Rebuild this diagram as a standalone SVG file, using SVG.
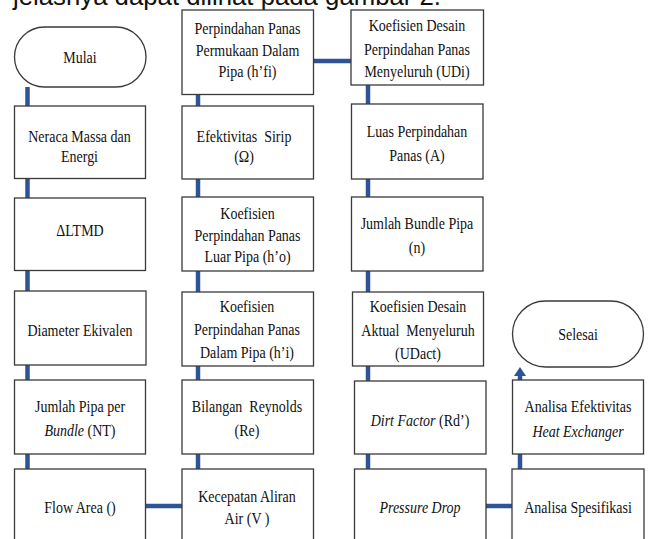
<svg xmlns="http://www.w3.org/2000/svg" width="649" height="539" viewBox="0 0 649 539">
<style>
.box{fill:#fff;stroke:#3a3a3a;stroke-width:1.3}
.t{font-family:"Liberation Serif","Times New Roman",serif;font-size:17.5px;fill:#111;text-anchor:middle}
.i{font-style:italic}
.c{fill:none;stroke:#2F5496;stroke-width:4.5}
.head{font-family:"Liberation Sans",Arial,sans-serif;font-size:25px;fill:#111}
</style>
<rect width="649" height="539" fill="#fff"/>
<text class="head" x="13" y="5" textLength="428" lengthAdjust="spacingAndGlyphs">jelasnya dapat dilihat pada gambar 2.</text>

<g id="connectors">
<line class="c" x1="27.5" y1="87" x2="27.5" y2="106"/>
<line class="c" x1="27.5" y1="178" x2="27.5" y2="198"/>
<line class="c" x1="27.5" y1="270" x2="27.5" y2="291"/>
<line class="c" x1="27.5" y1="365" x2="27.5" y2="380"/>
<line class="c" x1="27.5" y1="454" x2="27.5" y2="469"/>
<line class="c" x1="145.5" y1="506" x2="182" y2="506"/>
<line class="c" x1="198" y1="454" x2="198" y2="469"/>
<line class="c" x1="198" y1="366" x2="198" y2="380"/>
<line class="c" x1="198" y1="271" x2="198" y2="292"/>
<line class="c" x1="198" y1="179" x2="198" y2="197"/>
<line class="c" x1="198" y1="94" x2="198" y2="106"/>
<line class="c" x1="313" y1="61" x2="351" y2="61"/>
<line class="c" x1="368" y1="85" x2="368" y2="104"/>
<line class="c" x1="368" y1="179" x2="368" y2="197"/>
<line class="c" x1="368" y1="271" x2="368" y2="292"/>
<line class="c" x1="368" y1="366" x2="368" y2="381"/>
<line class="c" x1="368" y1="454" x2="368" y2="469"/>
<line class="c" x1="486" y1="506" x2="512" y2="506"/>
<line class="c" x1="520" y1="469" x2="520" y2="454"/>
<line class="c" x1="520" y1="380" x2="520" y2="375"/>
<path d="M520,367 L526,376 L514,376 z" fill="#2F5496"/>
</g>

<g id="mulai">
<rect class="box" x="14.5" y="27" width="131.5" height="60" rx="30" ry="30"/>
<text class="t" transform="translate(80,63) scale(0.8,1)">Mulai</text>
</g>
<g id="neraca">
<rect class="box" x="14.5" y="106" width="131" height="72.5"/>
<text class="t" transform="translate(79.5,142) scale(0.8,1)">Neraca Massa dan</text>
<text class="t" transform="translate(79.5,162) scale(0.8,1)">Energi</text>
</g>
<g id="ltmd">
<rect class="box" x="14.5" y="198" width="131" height="72.5"/>
<text class="t" transform="translate(80,235.5) scale(0.8,1)">ΔLTMD</text>
</g>
<g id="diameter">
<rect class="box" x="14.5" y="291" width="131.5" height="74"/>
<text class="t" transform="translate(80,335.5) scale(0.8,1)">Diameter Ekivalen</text>
</g>
<g id="jumlah-pipa">
<rect class="box" x="14.5" y="380" width="131" height="74"/>
<text class="t" transform="translate(80,412) scale(0.8,1)">Jumlah Pipa per</text>
<text class="t" transform="translate(80,435.5) scale(0.8,1)"><tspan class="i">Bundle</tspan> (NT)</text>
</g>
<g id="flow-area">
<rect class="box" x="14.5" y="469" width="131" height="76"/>
<text class="t" transform="translate(80,512.5) scale(0.8,1)">Flow Area ()</text>
</g>

<g id="hfi">
<rect class="box" x="182" y="10" width="131.5" height="84.5"/>
<text class="t" transform="translate(247.5,33.5) scale(0.8,1)">Perpindahan Panas</text>
<text class="t" transform="translate(247.5,55.5) scale(0.8,1)">Permukaan Dalam</text>
<text class="t" transform="translate(247.5,77) scale(0.8,1)">Pipa (h’fi)</text>
</g>
<g id="sirip">
<rect class="box" x="182" y="106" width="131.5" height="73"/>
<text class="t" xml:space="preserve" transform="translate(244,142) scale(0.8,1)">Efektivitas  Sirip</text>
<text class="t" transform="translate(244,162) scale(0.8,1)">(Ω)</text>
</g>
<g id="ho">
<rect class="box" x="182" y="197" width="131.5" height="74"/>
<text class="t" transform="translate(247.5,218.5) scale(0.8,1)">Koefisien</text>
<text class="t" transform="translate(247.5,240.5) scale(0.8,1)">Perpindahan Panas</text>
<text class="t" transform="translate(247.5,262) scale(0.8,1)">Luar Pipa (h’o)</text>
</g>
<g id="hi">
<rect class="box" x="182" y="292" width="131.5" height="74"/>
<text class="t" transform="translate(247,311.5) scale(0.8,1)">Koefisien</text>
<text class="t" transform="translate(247,334.5) scale(0.8,1)">Perpindahan Panas</text>
<text class="t" transform="translate(247,358) scale(0.8,1)">Dalam Pipa (h’i)</text>
</g>
<g id="reynolds">
<rect class="box" x="182" y="380" width="131.5" height="74"/>
<text class="t" xml:space="preserve" transform="translate(247,412) scale(0.8,1)">Bilangan  Reynolds</text>
<text class="t" transform="translate(247,435.5) scale(0.8,1)">(Re)</text>
</g>
<g id="kecepatan">
<rect class="box" x="182" y="469" width="131.5" height="76"/>
<text class="t" transform="translate(247,502) scale(0.8,1)">Kecepatan Aliran</text>
<text class="t" transform="translate(247,523.5) scale(0.8,1)">Air (V )</text>
</g>

<g id="udi">
<rect class="box" x="351" y="10" width="132.5" height="75"/>
<text class="t" transform="translate(417,31) scale(0.8,1)">Koefisien Desain</text>
<text class="t" transform="translate(417,54.5) scale(0.8,1)">Perpindahan Panas</text>
<text class="t" transform="translate(417,77) scale(0.8,1)">Menyeluruh (UDi)</text>
</g>
<g id="luas">
<rect class="box" x="351.5" y="104" width="131.5" height="75"/>
<text class="t" transform="translate(417,137) scale(0.8,1)">Luas Perpindahan</text>
<text class="t" transform="translate(417,160.5) scale(0.8,1)">Panas (A)</text>
</g>
<g id="bundle">
<rect class="box" x="351.5" y="197" width="131.5" height="74"/>
<text class="t" transform="translate(417,229) scale(0.8,1)">Jumlah Bundle Pipa</text>
<text class="t" transform="translate(417,252.5) scale(0.8,1)">(n)</text>
</g>
<g id="udact">
<rect class="box" x="352.5" y="292" width="131" height="74"/>
<text class="t" transform="translate(418,311.5) scale(0.8,1)">Koefisien Desain</text>
<text class="t" xml:space="preserve" transform="translate(418,335.5) scale(0.8,1)">Aktual  Menyeluruh</text>
<text class="t" transform="translate(418,358.5) scale(0.8,1)">(UDact)</text>
</g>
<g id="dirt">
<rect class="box" x="354.5" y="381" width="131.5" height="73"/>
<text class="t" transform="translate(420,425.5) scale(0.8,1)"><tspan class="i">Dirt Factor</tspan> (Rd’)</text>
</g>
<g id="pressure">
<rect class="box" x="354.5" y="469" width="131.5" height="76"/>
<text class="t i" transform="translate(420,513) scale(0.8,1)">Pressure Drop</text>
</g>

<g id="selesai">
<rect class="box" x="512.5" y="301" width="131" height="66" rx="33" ry="33"/>
<text class="t" transform="translate(578,340) scale(0.8,1)">Selesai</text>
</g>
<g id="efektivitas">
<rect class="box" x="512.5" y="380" width="131" height="74"/>
<text class="t" transform="translate(578,412) scale(0.8,1)">Analisa Efektivitas</text>
<text class="t i" transform="translate(578,436.5) scale(0.8,1)">Heat Exchanger</text>
</g>
<g id="spesifikasi">
<rect class="box" x="512" y="469" width="132" height="76"/>
<text class="t" transform="translate(578,513) scale(0.8,1)">Analisa Spesifikasi</text>
</g>
</svg>
